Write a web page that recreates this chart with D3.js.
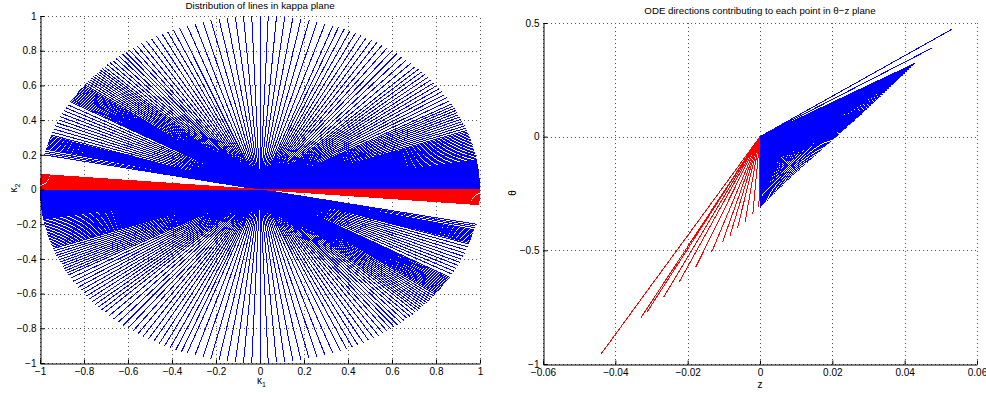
<!DOCTYPE html>
<html>
<head>
<meta charset="utf-8">
<script src="https://cdn.jsdelivr.net/npm/d3@7/dist/d3.min.js"></script>
<style>
  body { margin: 0; background: #fff; }
  svg { display: block; font-family: "Liberation Sans", Arial, sans-serif; }
</style>
</head>
<body>
<div id="chart"></div>
<script>
// kappa plane: angle (deg) of each line through the origin (upper end point)
const kappaBlueAngles = [
  0.3, 0.6, 0.9, 1.2, 1.5, 1.8, 2.1, 2.4, 2.7, 3.0, 3.3, 3.6, 3.9, 4.2, 4.5, 4.8, 5.1, 5.4, 5.7, 6.0,
  6.3, 6.6, 6.9, 7.2, 7.5, 7.8, 8.1, 8.4, 8.7, 9.0, 9.3, 9.6, 9.9,
  10.4, 10.9, 11.4, 11.9, 12.4, 12.9, 13.4, 13.9, 14.4, 14.9, 15.4, 15.9, 16.4, 16.9, 17.4, 17.9, 18.4, 18.9, 19.4, 19.9,
  20.7, 21.5, 22.3, 23.1, 23.9, 24.7, 25.5, 26.3, 27.1, 27.9, 28.7, 29.5,
  30.7, 31.9, 33.1, 34.3, 35.5, 36.7, 37.9, 39.1, 40.3, 41.5, 42.7, 43.9, 45.1,
  46.7, 48.3, 49.9, 51.5, 53.1, 54.7, 56.3, 57.9, 59.5, 61.1, 62.7, 64.3, 65.9, 67.5, 69.1,
  70.65, 72.8, 74.95, 77.1, 79.25, 81.4, 83.55, 85.7, 87.85, 90.0, 92.15, 94.3, 96.45, 98.6, 100.75, 102.9, 105.05, 107.2, 109.35, 111.5,
  113.2, 114.8, 116.4, 118.0, 119.6, 121.1, 122.6, 124.0,
  125.3, 126.5, 127.6, 128.7, 129.8, 130.9, 132.0, 133.0, 134.0, 135.0,
  135.8, 136.5, 137.2, 137.9, 138.6, 139.3, 140.0, 140.7, 141.4, 142.1, 142.8,
  143.3, 143.75, 144.2, 144.65, 145.1, 145.55, 146.0, 146.45, 146.9, 147.35, 147.8, 148.25, 148.7, 149.15, 149.6,
  150.8, 151.9, 153.0, 154.1, 155.2, 156.3, 157.4, 158.5, 159.6, 160.7, 161.7,
  162.2, 162.6, 163.0, 163.4, 163.8, 164.2, 164.6, 165.0, 165.4, 165.8, 166.2, 166.6,
  167.3, 167.9, 168.5
];
const kappaRedAngles = [
  175.0, 175.35, 175.7, 176.05, 176.4, 176.75, 177.1, 177.45, 177.8, 178.15, 178.5, 178.85, 179.2, 179.55, 179.85
];
const kappaTicks = [-1, -0.8, -0.6, -0.4, -0.2, 0, 0.2, 0.4, 0.6, 0.8, 1];

// theta-z plane: end point of each ODE direction drawn from the origin
const odeBlueZ = [
  // lower edge
  0.0000, 0.00033, 0.00065, 0.00098, 0.0013, 0.00163, 0.00195, 0.00228, 0.0026, 0.00293, 0.00325, 0.00358,
  0.0039, 0.00423, 0.00455, 0.00488, 0.0052, 0.00553, 0.00585, 0.00618, 0.0065, 0.00683, 0.00715, 0.00748, 0.0078,
  // right edge
  0.00816, 0.00852, 0.00889, 0.00925, 0.00961, 0.00997, 0.01033, 0.01069, 0.01106, 0.01142,
  0.01178, 0.01214, 0.0125, 0.01286, 0.01323, 0.01359, 0.01395, 0.01431, 0.01467, 0.01503,
  0.0154, 0.01576, 0.01612, 0.01648, 0.01684, 0.0172, 0.01757, 0.01793, 0.01829, 0.01865,
  0.01901, 0.01937, 0.01974, 0.0201, 0.02046, 0.02082, 0.02118, 0.02154, 0.02191, 0.02227,
  0.02263, 0.02299, 0.02335, 0.02371, 0.02408, 0.02444, 0.0248, 0.02516, 0.02552, 0.02588,
  0.02625, 0.02661, 0.02697, 0.02733, 0.02769, 0.02805, 0.02842, 0.02878, 0.02914, 0.0295,
  // upper edge
  0.03006, 0.03062, 0.03118, 0.03173, 0.03229, 0.03285, 0.03341, 0.03397, 0.03453, 0.03508, 0.03564, 0.0362,
  0.03676, 0.03732, 0.03788, 0.03843, 0.03899, 0.03955, 0.04011, 0.04067, 0.04123, 0.04178, 0.04234, 0.0429,
  // two long ones
  0.0477, 0.0530
];
const odeBlueTheta = [
  -0.312, -0.3069, -0.3018, -0.2968, -0.2917, -0.2866, -0.2815, -0.2764, -0.2713, -0.2663, -0.2612, -0.2561,
  -0.251, -0.2459, -0.2408, -0.2358, -0.2307, -0.2256, -0.2205, -0.2154, -0.2103, -0.2053, -0.2002, -0.1951, -0.19,
  -0.1848, -0.1797, -0.1745, -0.1693, -0.1642, -0.159, -0.1538, -0.1487, -0.1435, -0.1383,
  -0.1332, -0.128, -0.1228, -0.1177, -0.1125, -0.1073, -0.1022, -0.097, -0.0918, -0.0867,
  -0.0815, -0.0763, -0.0712, -0.066, -0.0608, -0.0557, -0.0505, -0.0453, -0.0402, -0.035,
  -0.0298, -0.0247, -0.0195, -0.0143, -0.0092, -0.004, 0.0012, 0.0063, 0.0115, 0.0167,
  0.0218, 0.027, 0.0322, 0.0373, 0.0425, 0.0477, 0.0528, 0.058, 0.0632, 0.0683,
  0.0735, 0.0787, 0.0838, 0.089, 0.0942, 0.0993, 0.1045, 0.1097, 0.1148, 0.12,
  0.1285, 0.1369, 0.1454, 0.1538, 0.1623, 0.1708, 0.1792, 0.1877, 0.1961, 0.2046, 0.213, 0.2215,
  0.23, 0.2384, 0.2469, 0.2553, 0.2638, 0.2722, 0.2807, 0.2892, 0.2976, 0.3061, 0.3145, 0.323,
  0.391, 0.472
];
const odeRedZ = [
  -0.0440, -0.0329, -0.0313, -0.0267, -0.0224, -0.0178, -0.0134, -0.0104, -0.0083, -0.0062, -0.0041, -0.0020, -0.0003
];
const odeRedTheta = [
  -0.957, -0.796, -0.773, -0.707, -0.641, -0.575, -0.509, -0.465, -0.435, -0.400, -0.374, -0.342, -0.310
];
const zTicks = [-0.06, -0.04, -0.02, 0, 0.02, 0.04, 0.06];
const thetaTicks = [-1, -0.5, 0, 0.5];

const width = 986, height = 393;

const svg = d3.select("#chart")
  .append("svg")
  .attr("width", width)
  .attr("height", height);

const fmt = d => d === 0 ? "0" : (d < 0 ? "\u2212" : "") + d3.format("~g")(Math.abs(d));

// dotted grid at every major tick
function drawGrid(g, x, y, xTicks, yTicks) {
  const [x0, x1] = x.range();
  const [y0, y1] = y.range();

  const grid = g.append("g")
    .attr("stroke", "#555")
    .attr("stroke-width", 1)
    .attr("stroke-dasharray", "1,3");
  xTicks.forEach(t => {
    grid.append("line")
      .attr("x1", Math.round(x(t)) + 0.5).attr("x2", Math.round(x(t)) + 0.5)
      .attr("y1", y0).attr("y2", y1);
  });
  yTicks.forEach(t => {
    grid.append("line")
      .attr("y1", Math.round(y(t)) + 0.5).attr("y2", Math.round(y(t)) + 0.5)
      .attr("x1", x0).attr("x2", x1);
  });
}

// left and bottom axes, ticks inside (MATLAB style, box off)
function drawAxes(g, x, y, xTicks, yTicks) {
  const [x0] = x.range();
  const [y0] = y.range();

  g.append("g")
    .attr("transform", "translate(0," + (Math.round(y0) + 0.5) + ")")
    .call(d3.axisBottom(x).tickValues(xTicks).tickFormat(fmt).tickSizeInner(-4).tickSizeOuter(0).tickPadding(4))
    .call(a => a.select(".domain").attr("stroke", "#000"))
    .selectAll("text")
    .style("font-size", "10px")
    .style("fill", "#000");

  g.append("g")
    .attr("transform", "translate(" + (Math.round(x0) + 0.5) + ",0)")
    .call(d3.axisLeft(y).tickValues(yTicks).tickFormat(fmt).tickSizeInner(-4).tickSizeOuter(0).tickPadding(4))
    .call(a => a.select(".domain").attr("stroke", "#000"))
    .selectAll("text")
    .style("font-size", "10px")
    .style("fill", "#000");
}

// ---- left: kappa plane
const xK = d3.scaleLinear().domain([-1, 1]).range([40, 480]);
const yK = d3.scaleLinear().domain([-1, 1]).range([363, 16]);
const gK = svg.append("g");
drawGrid(gK, xK, yK, kappaTicks, kappaTicks);

const rad = a => a * Math.PI / 180;

function kappaLines(angles, color) {
  gK.append("g")
    .attr("shape-rendering", "crispEdges")
    .selectAll("line")
    .data(angles)
    .enter()
    .append("line")
    .attr("x1", d => xK(Math.cos(rad(d))))
    .attr("y1", d => yK(Math.sin(rad(d))))
    .attr("x2", d => xK(-Math.cos(rad(d))))
    .attr("y2", d => yK(-Math.sin(rad(d))))
    .attr("stroke", color)
    .attr("stroke-width", 1);
}
kappaLines(kappaBlueAngles, "#0000ff");
kappaLines(kappaRedAngles, "#ff0000");

drawAxes(gK, xK, yK, kappaTicks, kappaTicks);

gK.append("text")
  .attr("x", 260).attr("y", 9)
  .attr("text-anchor", "middle")
  .style("font-size", "9.8px")
  .text("Distribution of lines in kappa plane");

gK.append("text")
  .attr("x", 257).attr("y", 384)
  .style("font-size", "10px")
  .html("\u03ba<tspan dy='3' font-size='7px'>1</tspan>");

gK.append("text")
  .attr("transform", "translate(17,188) rotate(-90)")
  .attr("text-anchor", "middle")
  .style("font-size", "10px")
  .html("\u03ba<tspan dy='3' font-size='7px'>2</tspan>");

// ---- right: theta-z plane
const xO = d3.scaleLinear().domain([-0.06, 0.06]).range([543, 977]);
const yO = d3.scaleLinear().domain([-1, 0.5]).range([364, 23]);
const gO = svg.append("g");
drawGrid(gO, xO, yO, zTicks, thetaTicks);

function odeLines(zs, thetas, color) {
  gO.append("g")
    .attr("shape-rendering", "crispEdges")
    .selectAll("line")
    .data(zs)
    .enter()
    .append("line")
    .attr("x1", xO(0)).attr("y1", yO(0))
    .attr("x2", d => xO(d))
    .attr("y2", (d, i) => yO(thetas[i]))
    .attr("stroke", color)
    .attr("stroke-width", 1);
}
odeLines(odeBlueZ, odeBlueTheta, "#0000ff");
odeLines(odeRedZ, odeRedTheta, "#ff0000");

drawAxes(gO, xO, yO, zTicks, thetaTicks);

gO.append("text")
  .attr("x", 760).attr("y", 14)
  .attr("text-anchor", "middle")
  .style("font-size", "9.7px")
  .text("ODE directions contributing to each point in \u03b8\u2212z plane");

gO.append("text")
  .attr("x", 760).attr("y", 388)
  .attr("text-anchor", "middle")
  .style("font-size", "10px")
  .text("z");

gO.append("text")
  .attr("transform", "translate(516,193) rotate(-90)")
  .attr("text-anchor", "middle")
  .style("font-size", "10px")
  .text("\u03b8");
</script>
</body>
</html>
